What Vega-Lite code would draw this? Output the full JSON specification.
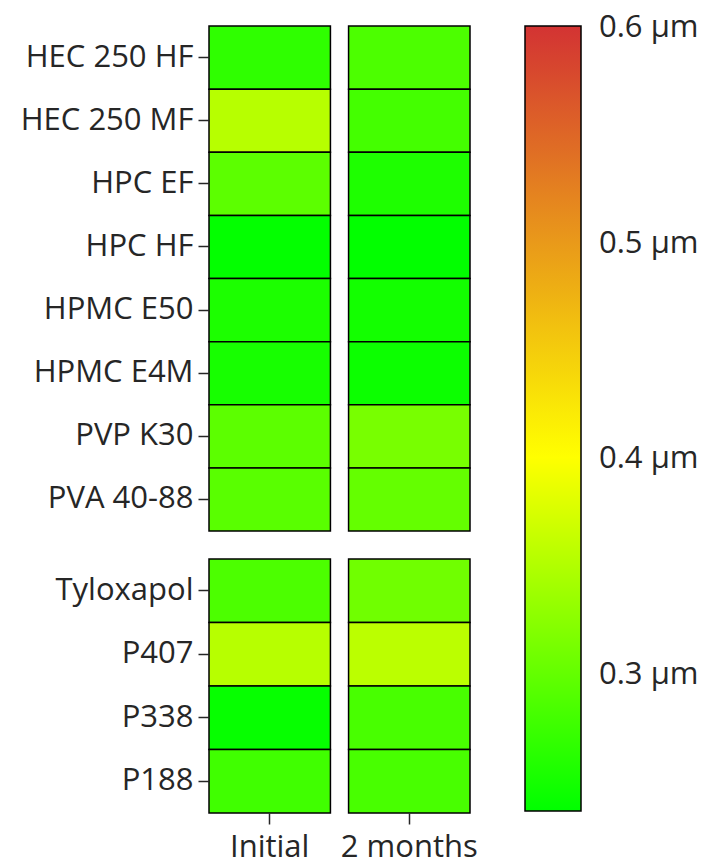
{
  "$schema": "https://vega.github.io/schema/vega-lite/v6.json",
  "background": "white",
  "padding": {"left": 20, "top": 25, "right": 0, "bottom": 0},
  "config": {
    "font": "Open Sans",
    "view": {"stroke": null},
    "axis": {
      "labelFont": "Open Sans",
      "labelFontSize": 31,
      "labelColor": "#262626",
      "tickColor": "#262626",
      "tickSize": 11,
      "tickWidth": 1.5,
      "domain": false,
      "grid": false,
      "title": null
    }
  },
  "datasets": {
    "polymers": [
      {"stabilizer": "HEC 250 HF", "time": "Initial", "size": 0.266},
      {"stabilizer": "HEC 250 HF", "time": "2 months", "size": 0.285},
      {"stabilizer": "HEC 250 MF", "time": "Initial", "size": 0.354},
      {"stabilizer": "HEC 250 MF", "time": "2 months", "size": 0.280},
      {"stabilizer": "HPC EF", "time": "Initial", "size": 0.295},
      {"stabilizer": "HPC EF", "time": "2 months", "size": 0.255},
      {"stabilizer": "HPC HF", "time": "Initial", "size": 0.238},
      {"stabilizer": "HPC HF", "time": "2 months", "size": 0.237},
      {"stabilizer": "HPMC E50", "time": "Initial", "size": 0.254},
      {"stabilizer": "HPMC E50", "time": "2 months", "size": 0.248},
      {"stabilizer": "HPMC E4M", "time": "Initial", "size": 0.251},
      {"stabilizer": "HPMC E4M", "time": "2 months", "size": 0.244},
      {"stabilizer": "PVP K30", "time": "Initial", "size": 0.295},
      {"stabilizer": "PVP K30", "time": "2 months", "size": 0.313},
      {"stabilizer": "PVA 40-88", "time": "Initial", "size": 0.293},
      {"stabilizer": "PVA 40-88", "time": "2 months", "size": 0.300}
    ],
    "surfactants": [
      {"stabilizer": "Tyloxapol", "time": "Initial", "size": 0.285},
      {"stabilizer": "Tyloxapol", "time": "2 months", "size": 0.308},
      {"stabilizer": "P407", "time": "Initial", "size": 0.354},
      {"stabilizer": "P407", "time": "2 months", "size": 0.356},
      {"stabilizer": "P338", "time": "Initial", "size": 0.240},
      {"stabilizer": "P338", "time": "2 months", "size": 0.282},
      {"stabilizer": "P188", "time": "Initial", "size": 0.277},
      {"stabilizer": "P188", "time": "2 months", "size": 0.282}
    ]
  },
  "spacing": 26,
  "vconcat": [
    {
      "data": {"name": "polymers"},
      "width": 261,
      "height": 505,
      "mark": {"type": "rect", "stroke": "black", "strokeWidth": 1.5},
      "encoding": {
        "x": {
          "field": "time", "type": "nominal", "sort": ["Initial", "2 months"],
          "scale": {"paddingInner": 0.13, "paddingOuter": 0},
          "axis": null
        },
        "y": {
          "field": "stabilizer", "type": "nominal", "sort": null,
          "scale": {"paddingInner": 0, "paddingOuter": 0},
          "axis": {"labelPadding": 5}
        },
        "color": {
          "field": "size", "type": "quantitative",
          "scale": {
            "domain": [0.236, 0.4, 0.6],
            "range": ["#00ff00", "#ffff00", "#d33333"],
            "interpolate": "rgb"
          },
          "legend": {
            "title": null,
            "orient": "none",
            "legendX": 316,
            "legendY": 0,
            "direction": "vertical",
            "gradientLength": 785,
            "gradientThickness": 56,
            "gradientStrokeColor": "black",
            "gradientStrokeWidth": 1.5,
            "labelFont": "Open Sans",
            "labelFontSize": 31,
            "labelColor": "#262626",
            "labelOffset": 18,
            "values": [0.3, 0.4, 0.5, 0.6],
            "labelExpr": "datum.value + ' µm'",
            "encode": {
              "labels": {"update": {"baseline": {"value": "middle"}, "dy": {"value": 2}}}
            }
          }
        }
      }
    },
    {
      "data": {"name": "surfactants"},
      "width": 261,
      "height": 254,
      "mark": {"type": "rect", "stroke": "black", "strokeWidth": 1.5},
      "encoding": {
        "x": {
          "field": "time", "type": "nominal", "sort": ["Initial", "2 months"],
          "scale": {"paddingInner": 0.13, "paddingOuter": 0},
          "axis": {"labelAngle": 0, "labelPadding": 8}
        },
        "y": {
          "field": "stabilizer", "type": "nominal", "sort": null,
          "scale": {"paddingInner": 0, "paddingOuter": 0},
          "axis": {"labelPadding": 5}
        },
        "color": {"field": "size", "type": "quantitative"}
      }
    }
  ]
}
